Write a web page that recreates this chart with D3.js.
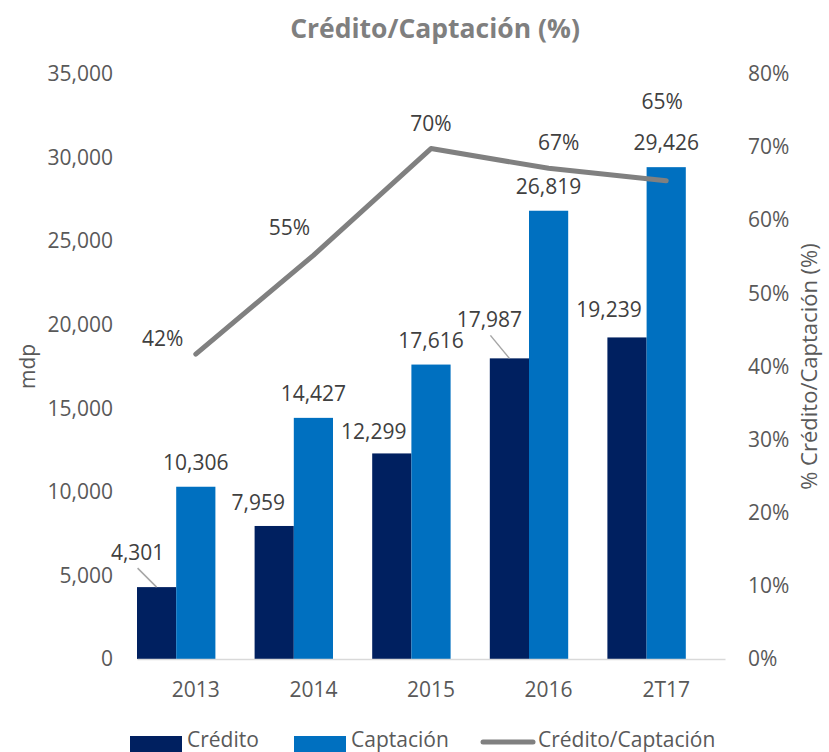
<!DOCTYPE html>
<html>
<head>
<meta charset="utf-8">
<script src="https://cdn.jsdelivr.net/npm/d3@7"></script>
<style>
  body { margin: 0; background: #fff; }
  text { font-family: "Open Sans", "DejaVu Sans", sans-serif; }
</style>
</head>
<body>
<div id="vis"></div>
<script>
// Data
const categories = ["2013", "2014", "2015", "2016", "2T17"];
const credito = [4301, 7959, 12299, 17987, 19239];
const captacion = [10306, 14427, 17616, 26819, 29426];
const ratio = [0.417, 0.552, 0.698, 0.671, 0.654];
const leftTicks = [0, 5000, 10000, 15000, 20000, 25000, 30000, 35000];
const rightTicks = [0, 0.1, 0.2, 0.3, 0.4, 0.5, 0.6, 0.7, 0.8];

// label placement (Excel moved some labels by hand)
const creditoLabelOffset = [[-19, -35], [-16, -24], [-18, -22], [-20, -39], [-18, -28]];
const creditoLeader = [true, false, false, true, false];
const ratioLabelOffset = [[-33, -16], [-24, -28], [0, -26], [10, -26], [-4, -80]];

const width = 829;
const height = 752;
const plot = { left: 137, right: 725, top: 74, bottom: 659 };

const colCredito = "#002060";
const colCaptacion = "#0070C0";
const colLine = "#808080";
const labelColor = "#404040";
const tickColor = "#595959";
const fontSize = "21px";

const svg = d3.select("#vis")
  .append("svg")
  .attr("width", width)
  .attr("height", height);

// Scales
const x = d3.scaleBand()
  .domain(categories)
  .range([plot.left, plot.right])
  .paddingInner(0)
  .paddingOuter(0);

// three slots per category, the third one stays empty
const xSub = d3.scaleBand()
  .domain(["credito", "captacion", "empty"])
  .range([0, x.bandwidth()]);

const yLeft = d3.scaleLinear()
  .domain([0, 35000])
  .range([plot.bottom, plot.top]);

const yRight = d3.scaleLinear()
  .domain([0, 0.8])
  .range([plot.bottom, plot.top]);

// Title
svg.append("text")
  .attr("x", 435)
  .attr("y", 28)
  .attr("text-anchor", "middle")
  .attr("dominant-baseline", "central")
  .attr("fill", "#7f7f7f")
  .attr("font-size", "26.5px")
  .attr("font-weight", "bold")
  .text("Crédito/Captación (%)");

// Left axis
const gLeft = svg.append("g")
  .attr("transform", `translate(${plot.left},0)`)
  .call(d3.axisLeft(yLeft).tickValues(leftTicks).tickFormat(d3.format(",")).tickSize(0).tickPadding(24));
gLeft.select(".domain").remove();
gLeft.selectAll("text")
  .attr("fill", tickColor)
  .attr("font-size", fontSize)
  .attr("font-family", "Open Sans");

// Right axis
const gRight = svg.append("g")
  .attr("transform", `translate(${plot.right},0)`)
  .call(d3.axisRight(yRight).tickValues(rightTicks).tickFormat(d3.format(".0%")).tickSize(0).tickPadding(23));
gRight.select(".domain").remove();
gRight.selectAll("text")
  .attr("fill", tickColor)
  .attr("font-size", fontSize)
  .attr("font-family", "Open Sans");

// Bars
const groups = svg.append("g")
  .selectAll("g")
  .data(categories)
  .join("g")
  .attr("transform", d => `translate(${x(d)},0)`);

groups.append("rect")
  .attr("x", xSub("credito"))
  .attr("y", (d, i) => yLeft(credito[i]))
  .attr("width", xSub.bandwidth())
  .attr("height", (d, i) => plot.bottom - yLeft(credito[i]))
  .attr("fill", colCredito);

groups.append("rect")
  .attr("x", xSub("captacion"))
  .attr("y", (d, i) => yLeft(captacion[i]))
  .attr("width", xSub.bandwidth())
  .attr("height", (d, i) => plot.bottom - yLeft(captacion[i]))
  .attr("fill", colCaptacion);

// Bottom axis
const gBottom = svg.append("g")
  .attr("transform", `translate(0,${plot.bottom})`)
  .call(d3.axisBottom(x).tickSize(0).tickPadding(23));
gBottom.select(".domain")
  .attr("stroke", "#d9d9d9")
  .attr("stroke-width", 1.5);
gBottom.selectAll("text")
  .attr("fill", tickColor)
  .attr("font-size", fontSize)
  .attr("font-family", "Open Sans");

// Captación labels
groups.append("text")
  .attr("x", xSub("captacion") + xSub.bandwidth() / 2)
  .attr("y", (d, i) => yLeft(captacion[i]) - 25)
  .attr("text-anchor", "middle")
  .attr("dominant-baseline", "central")
  .attr("fill", labelColor)
  .attr("font-size", fontSize)
  .text((d, i) => d3.format(",")(captacion[i]));

// Crédito labels with leader lines
const credCenter = xSub("credito") + xSub.bandwidth() / 2;
groups.filter((d, i) => creditoLeader[i])
  .append("line")
  .attr("x1", credCenter - 19)
  .attr("y1", d => {
    const i = categories.indexOf(d);
    return yLeft(credito[i]) + creditoLabelOffset[i][1] + 16;
  })
  .attr("x2", credCenter)
  .attr("y2", d => yLeft(credito[categories.indexOf(d)]))
  .attr("stroke", "#a6a6a6")
  .attr("stroke-width", 1.5);

groups.append("text")
  .attr("x", (d, i) => credCenter + creditoLabelOffset[i][0])
  .attr("y", (d, i) => yLeft(credito[i]) + creditoLabelOffset[i][1])
  .attr("text-anchor", "middle")
  .attr("dominant-baseline", "central")
  .attr("fill", labelColor)
  .attr("font-size", fontSize)
  .text((d, i) => d3.format(",")(credito[i]));

// Ratio line
const line = d3.line()
  .x((d, i) => x(categories[i]) + x.bandwidth() / 2)
  .y(d => yRight(d));

svg.append("path")
  .datum(ratio)
  .attr("fill", "none")
  .attr("stroke", colLine)
  .attr("stroke-width", 5)
  .attr("stroke-linecap", "round")
  .attr("stroke-linejoin", "round")
  .attr("d", line);

svg.append("g")
  .selectAll("text")
  .data(ratio)
  .join("text")
  .attr("x", (d, i) => x(categories[i]) + x.bandwidth() / 2 + ratioLabelOffset[i][0])
  .attr("y", (d, i) => yRight(d) + ratioLabelOffset[i][1])
  .attr("text-anchor", "middle")
  .attr("dominant-baseline", "central")
  .attr("fill", labelColor)
  .attr("font-size", fontSize)
  .text(d => d3.format(".0%")(d));

// Axis titles
svg.append("text")
  .attr("transform", `translate(27,${(plot.top + plot.bottom) / 2}) rotate(-90)`)
  .attr("text-anchor", "middle")
  .attr("dominant-baseline", "central")
  .attr("fill", tickColor)
  .attr("font-size", fontSize)
  .text("mdp");

svg.append("text")
  .attr("transform", `translate(808,${(plot.top + plot.bottom) / 2}) rotate(-90)`)
  .attr("text-anchor", "middle")
  .attr("dominant-baseline", "central")
  .attr("fill", tickColor)
  .attr("font-size", "22px")
  .text("% Crédito/Captación (%)");

// Legend
const legendItems = [
  { name: "Crédito", type: "rect", color: colCredito, x: 130 },
  { name: "Captación", type: "rect", color: colCaptacion, x: 294 },
  { name: "Crédito/Captación", type: "line", color: colLine, x: 481 }
];
const legendY = 739;

const legend = svg.append("g")
  .selectAll("g")
  .data(legendItems)
  .join("g")
  .attr("transform", d => `translate(${d.x},${legendY})`);

legend.filter(d => d.type === "rect")
  .append("rect")
  .attr("x", 0)
  .attr("y", -3)
  .attr("width", 52)
  .attr("height", 16)
  .attr("fill", d => d.color);

legend.filter(d => d.type === "line")
  .append("line")
  .attr("x1", 2)
  .attr("x2", 52)
  .attr("y1", 3)
  .attr("y2", 3)
  .attr("stroke", d => d.color)
  .attr("stroke-width", 5)
  .attr("stroke-linecap", "round");

legend.append("text")
  .attr("x", 57)
  .attr("y", 0)
  .attr("dominant-baseline", "central")
  .attr("fill", tickColor)
  .attr("font-size", fontSize)
  .text(d => d.name);
</script>
</body>
</html>
